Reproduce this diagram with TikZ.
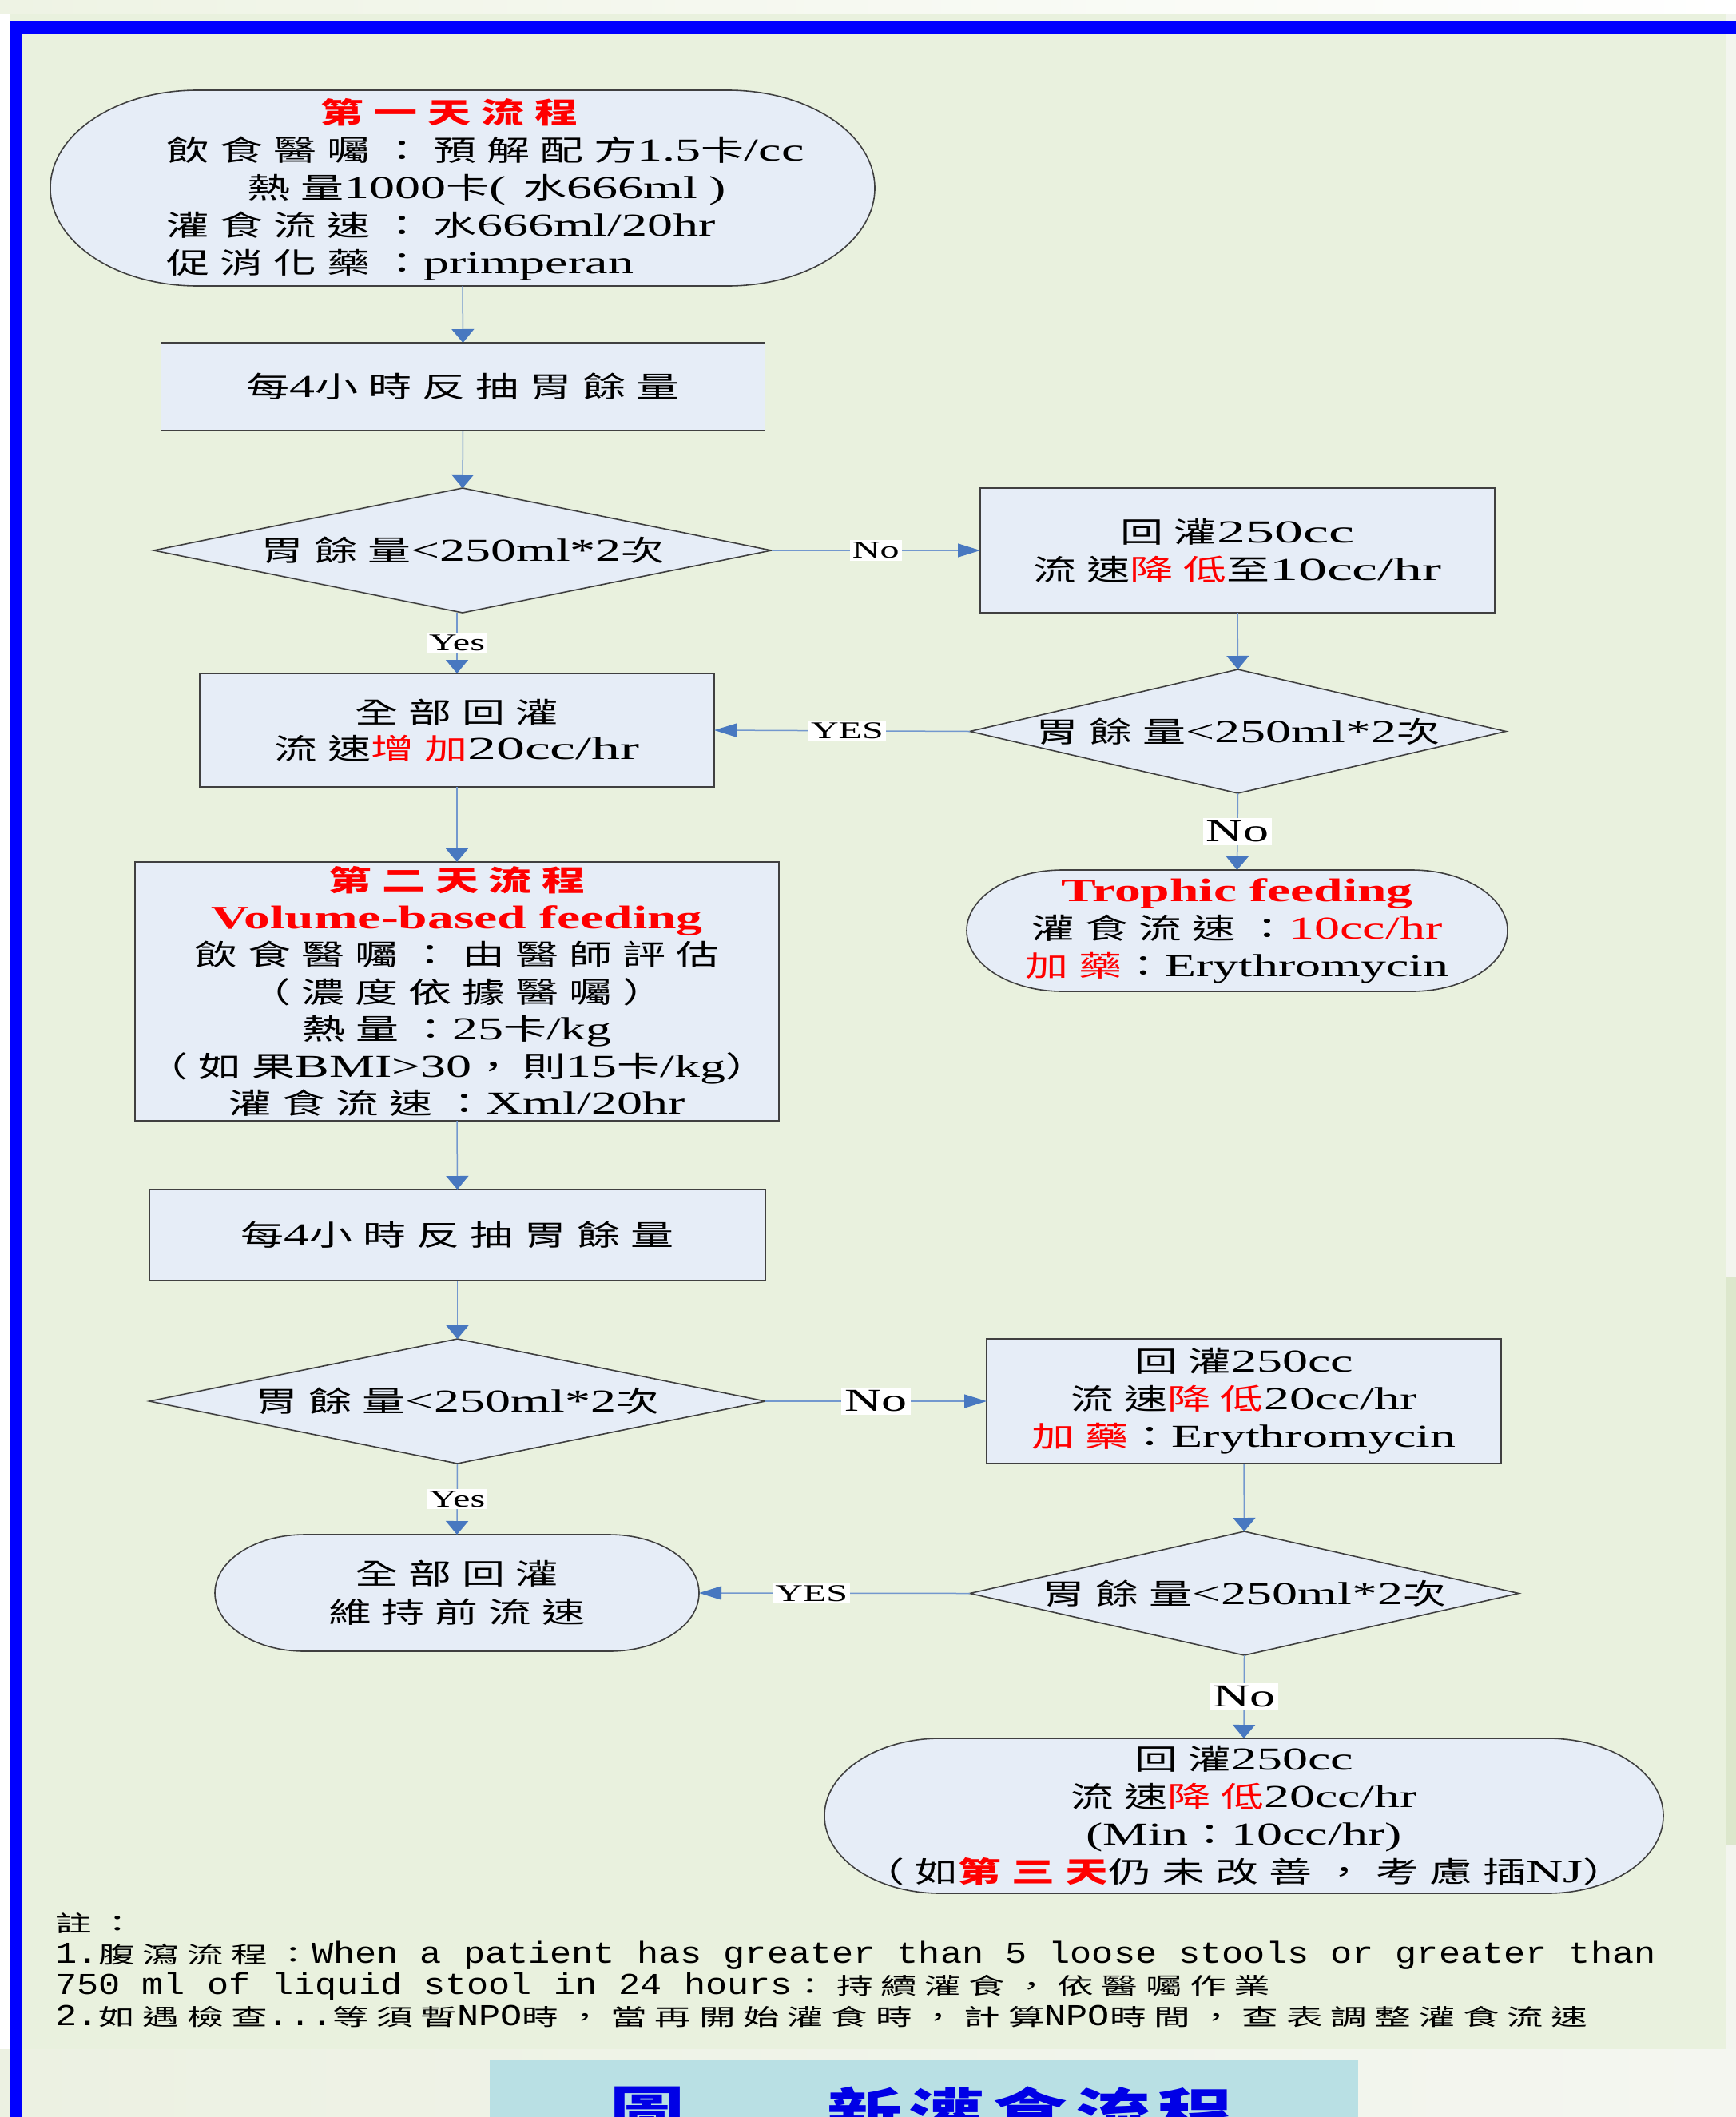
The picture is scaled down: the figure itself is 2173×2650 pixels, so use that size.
\documentclass[tikz,border=0pt]{standalone}
\usepackage{fontspec}
\setmainfont[FakeStretch=1.6]{Liberation Serif}
\newfontfamily\widelat[FakeStretch=1.8]{Liberation Serif}
\newfontfamily\cjkf[FakeStretch=1.5,Scale=0.9,LetterSpace=36]{Noto Sans CJK TC}
\newfontfamily\notelat[FakeStretch=1.19]{Liberation Mono}
\newfontfamily\notecjk[FakeStretch=1.6,Scale=0.75,LetterSpace=34]{Noto Sans CJK TC}
\newfontfamily\capfont[FakeStretch=1.3,LetterSpace=14]{Noto Sans CJK TC}
\usetikzlibrary{shapes.geometric,arrows.meta}
\newcommand\zh[1]{{\cjkf #1}}
\newcommand\nz[1]{{\notecjk #1}}
\definecolor{panel}{RGB}{233,241,222}
\definecolor{boxfill}{RGB}{230,237,247}
\definecolor{bordergray}{RGB}{64,64,64}
\definecolor{lineblue}{RGB}{115,152,206}
\definecolor{arrowblue}{RGB}{72,120,192}
\definecolor{barblue}{RGB}{0,0,255}
\definecolor{capbg}{RGB}{185,224,228}
\definecolor{capblue}{RGB}{0,0,230}
\definecolor{topgreen}{RGB}{238,243,228}
\definecolor{botgreen}{RGB}{236,241,226}
\definecolor{botright}{RGB}{244,246,240}
\definecolor{rightpale}{RGB}{243,245,239}
\definecolor{rightgreen}{RGB}{220,231,204}
\newcommand\terminal[6]{%
  \pgfmathsetmacro\tXa{#2-#4/2}%
  \pgfmathsetmacro\tXb{#2+#4/2}%
  \pgfmathsetmacro\tYa{#3-#5/2}%
  \pgfmathsetmacro\tYb{#3+#5/2}%
  \pgfmathsetmacro\tRy{#5/2}%
  \draw[termline] (\tXa+#6,\tYa) -- (\tXb-#6,\tYa)
     arc[start angle=-90,end angle=90,x radius=#6,y radius=\tRy]
     -- (\tXa+#6,\tYb)
     arc[start angle=90,end angle=270,x radius=#6,y radius=\tRy] -- cycle;
  \node[termn, minimum width=#4, minimum height=#5] (#1) at (#2,#3) {};
}
\begin{document}
\begin{tikzpicture}[x=1pt,y=-1pt,
  shapebox/.style={draw=bordergray, line width=1.6pt, fill=boxfill, inner sep=0pt, outer sep=0pt},
  boxn/.style={shapebox, rectangle},
  diam/.style={shapebox, diamond, aspect=5},
  termline/.style={draw=bordergray, line width=1.6pt, fill=boxfill},
  termn/.style={rectangle, inner sep=0pt, outer sep=0pt},
  txt/.style={inner sep=0pt, align=center, font=\fontsize{40}{47}\selectfont},
  conn/.style={draw=lineblue, line width=1.5pt},
  varr/.style={conn, -{Triangle[length=17pt,width=28pt,color=arrowblue]}},
  harr/.style={conn, -{Triangle[length=28pt,width=17pt,color=arrowblue]}},
  lab/.style={fill=white, inner xsep=3pt, inner ysep=3pt, font=\fontsize{30}{30}\selectfont},
  labbig/.style={fill=white, inner xsep=4pt, inner ysep=4pt, font=\fontsize{40}{40}\selectfont},
]
\useasboundingbox (0,0) rectangle (2173,2650);
\clip (0,0) rectangle (2173,2650);
% background
\fill[white] (0,0) rectangle (2173,2650);
\shade[left color=topgreen, right color=white] (0,0) rectangle (2173,17);
\shade[left color=botgreen, right color=botright] (0,2565) rectangle (2173,2650);
\fill[rightpale] (2160,17) rectangle (2173,2565);
\fill[rightgreen] (2160,1598) rectangle (2173,2310);
\fill[panel] (12,17) rectangle (2160,2565);
\fill[barblue] (12,26) rectangle (2173,42);
\fill[barblue] (12,26) rectangle (28,2650);

% shapes
\terminal{t1}{579}{235.5}{1032}{245}{184}
\node[boxn, minimum width=756, minimum height=110] (b1) at (579.5,484) {};
\node[diam, minimum width=773, minimum height=156] (d1) at (579,689) {};
\node[boxn, minimum width=644, minimum height=156] (r1) at (1549,689) {};
\node[boxn, minimum width=644, minimum height=142] (b2) at (572,914) {};
\node[diam, minimum width=671, minimum height=155] (d2) at (1549.5,915.5) {};
\terminal{t2}{1548.5}{1165}{677}{152}{120}
\node[boxn, minimum width=806, minimum height=324] (b3) at (572,1241) {};
\node[boxn, minimum width=771, minimum height=114] (b4) at (572.5,1546) {};
\node[diam, minimum width=771, minimum height=156] (d3) at (572.5,1754) {};
\node[boxn, minimum width=644, minimum height=156] (r2) at (1557,1754) {};
\node[diam, minimum width=687, minimum height=155] (d4) at (1557.5,1994.5) {};
\terminal{t3}{572}{1994}{606}{146}{112}
\terminal{t4}{1557}{2273}{1050}{194}{145}

% texts
\node[txt, align=left, anchor=west] (t1t) at (208,237) {%
\hspace*{193pt}\textcolor{red}{\bfseries\zh{第一天流程}}\\
\zh{飲食醫囑：預解配方}1.5\zh{卡}/cc\\
\hspace*{101pt}\zh{熱量}1000\zh{卡}(\hspace{22pt}\zh{水}666ml\hspace{14pt})\\
\zh{灌食流速：水}666ml/20hr\\
\zh{促消化藥：}primperan};
\node[txt] (b1t) at (b1) {\zh{每}4\zh{小時反抽胃餘量}};
\node[txt] (d1t) at (d1) {\zh{胃餘量}<250ml*2\zh{次}};
\node[txt, font=\widelat\fontsize{40}{47}\selectfont] (r1t) at (r1) {\zh{回灌}250cc\\ \zh{流速}\textcolor{red}{\zh{降低}}\zh{至}10cc/hr};
\node[txt, font=\widelat\fontsize{40}{45}\selectfont] (b2t) at (b2) {\zh{全部回灌}\\ \zh{流速}\textcolor{red}{\zh{增加}}20cc/hr};
\node[txt] (d2t) at (d2) {\zh{胃餘量}<250ml*2\zh{次}};
\node[txt] (t2t) at (t2) {\textcolor{red}{\fontsize{41}{47}\selectfont\bfseries Trophic feeding}\\
\zh{灌食流速：}\textcolor{red}{10cc/hr}\\
\textcolor{red}{\zh{加藥}}\zh{：}Erythromycin};
\node[txt, font=\fontsize{40}{46.5}\selectfont] (b3t) at (b3) {\textcolor{red}{\bfseries\zh{第二天流程}}\\
\textcolor{red}{\fontsize{41}{46.5}\selectfont\bfseries Volume-based feeding}\\
\zh{飲食醫囑：由醫師評估}\\
\zh{（濃度依據醫囑）}\\
\zh{熱量：}25\zh{卡}/kg\\
\zh{（如果}BMI>30\zh{，}\hspace{10pt}\zh{則}15\zh{卡}/kg\zh{）}\\
\zh{灌食流速：}Xml/20hr};
\node[txt] (b4t) at (b4) {\zh{每}4\zh{小時反抽胃餘量}};
\node[txt] (d3t) at (d3) {\zh{胃餘量}<250ml*2\zh{次}};
\node[txt] (r2t) at (r2) {\zh{回灌}250cc\\ \zh{流速}\textcolor{red}{\zh{降低}}20cc/hr\\ \textcolor{red}{\zh{加藥}}\zh{：}Erythromycin};
\node[txt] (d4t) at (d4) {\zh{胃餘量}<250ml*2\zh{次}};
\node[txt, font=\fontsize{40}{48}\selectfont] (t3t) at (t3) {\zh{全部回灌}\\ \zh{維持前流速}};
\node[txt] (t4t) at (t4) {\zh{回灌}250cc\\ \zh{流速}\textcolor{red}{\zh{降低}}20cc/hr\\ (Min\zh{：}10cc/hr)\\
\zh{（如}\textcolor{red}{\bfseries\zh{第三天}}\zh{仍未改善，考慮插}NJ\zh{）}};

% connectors
\draw[varr] (t1.south) -- (b1.north);
\draw[varr] (b1.south) -- (d1.north);
\draw[harr] (d1.east) -- node[lab]{No} (r1.west);
\draw[varr] (b2.north |- d1.south) -- node[lab]{Yes} (b2.north);
\draw[varr] (r1.south) -- (d2.north);
\draw[harr] (d2.west) -- node[lab, pos=0.48]{YES} (b2.east);
\draw[varr] (d2.south) -- node[labbig]{No} (t2.north);
\draw[varr] (b2.south) -- (b3.north);
\draw[varr] (b3.south) -- (b4.north);
\draw[varr] (b4.south) -- (d3.north);
\draw[harr] (d3.east) -- node[labbig]{No} (r2.west);
\draw[varr] (d3.south) -- node[lab]{Yes} (t3.north);
\draw[varr] (r2.south) -- (d4.north);
\draw[harr] (d4.west) -- node[lab, pos=0.585]{YES} (t3.east);
\draw[varr] (d4.south) -- node[labbig]{No} (t4.north);

% notes
\node[anchor=north west, inner sep=0pt, align=left, font=\notelat\fontsize{38}{39}\selectfont] (notes) at (69,2394) {%
\nz{註：}\\
1.\nz{腹瀉流程：}When a patient has greater than 5 loose stools or greater than\\
750 ml of liquid stool in 24 hours\nz{：持續灌食，依醫囑作業}\\
2.\nz{如遇檢查}...\nz{等須暫}NPO\nz{時，當再開始灌食時，計算}NPO\nz{時間，查表調整灌食流速}};

% caption
\fill[capbg] (613,2579) rectangle (1700,2660);
\node[anchor=north west, inner sep=0pt, text=capblue, font=\capfont\bfseries\fontsize{72}{72}\selectfont] (cap1) at (763,2612) {圖};
\node[anchor=north west, inner sep=0pt, text=capblue, font=\capfont\bfseries\fontsize{72}{72}\selectfont] (cap2) at (1035,2612) {新灌食流程};
\end{tikzpicture}
\end{document}
